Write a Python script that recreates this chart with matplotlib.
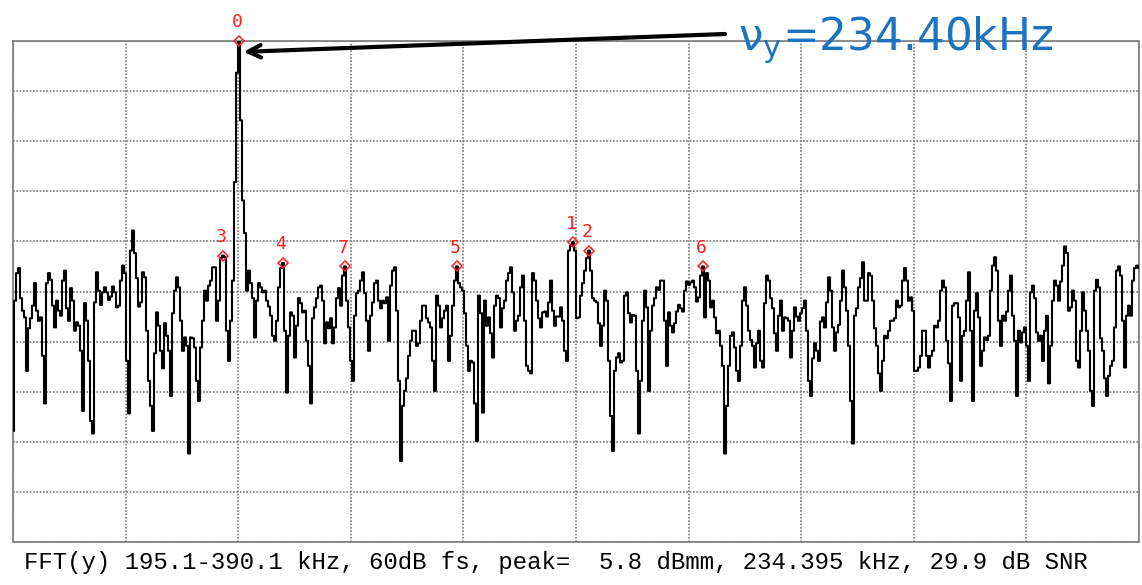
import numpy as np
import matplotlib.pyplot as plt

# spectrum analyser sweep, y plane
f_start, f_stop = 195.1, 390.1      # kHz
top_dbm = 5.8                       # peak level sits on the top graticule line
span_db = 60                        # 60 dB full scale, 10 divisions

level_dbm = [
    # 195.1 - 227.3 kHz
    -40.9, -25.3, -22.0, -21.4, -25.0, -26.5, -27.3, -33.7, -28.6, -27.4,
    -25.9, -23.2, -26.5, -27.7, -27.3, -31.9, -37.6, -23.2, -22.0, -22.8,
    -25.9, -28.5, -25.3, -26.5, -27.1, -22.9, -21.7, -26.2, -27.7, -23.8,
    -25.3, -28.9, -27.9, -28.3, -31.3, -38.5, -25.6, -27.7, -32.5, -39.7,
    -41.2, -25.5, -21.9, -24.1, -25.8, -24.3, -23.7, -24.3, -25.2, -24.8,
    -23.6, -24.3, -26.1, -25.9, -22.9, -21.1, -22.0, -32.5, -38.8, -19.3,
    -16.9, -19.6, -22.6, -26.0, -25.5, -21.9, -22.5, -28.9, -34.9, -37.9,
    -40.9, -31.6, -26.7, -28.3, -31.3, -33.4, -28.0, -29.5, -31.3, -36.7,
    -26.8, -24.1, -22.5, -23.7, -27.7, -31.3, -29.7, -30.7, -43.6, -29.7,
    -29.8, -30.9, -34.9, -37.3,
    # 227.6 - 259.5 kHz
    -30.9, -27.7, -24.1, -25.3, -23.5, -22.9, -21.3, -21.3, -27.7, -25.3,
    -20.2, -19.9, -20.1, -28.9, -32.5, -27.7, -22.9, -11.1, 2.0, 5.8,
    -3.7, -13.3, -17.2, -24.1, -21.7, -23.2, -25.0, -29.7, -25.3, -23.2,
    -23.7, -24.3, -24.1, -25.3, -26.0, -27.1, -29.5, -30.1, -27.7, -23.7,
    -21.4, -20.8, -28.9, -36.3, -29.5, -26.7, -27.1, -32.1, -28.3, -25.0,
    -25.6, -26.7, -26.5, -30.1, -33.1, -37.6, -27.4, -26.1, -25.0, -23.7,
    -23.5, -25.3, -30.4, -27.9, -28.6, -27.4, -30.4, -28.5, -25.0, -23.8,
    -25.9, -22.3, -21.2, -25.3, -28.5, -32.5, -34.9, -27.1, -24.4, -24.1,
    -22.9, -21.9, -24.4, -27.7, -31.3, -27.1, -25.5, -23.2, -22.9, -25.3,
    -26.2, -25.3, -25.6,
    # 259.8 - 291.3 kHz
    -24.9, -30.1, -23.5, -21.7, -21.3, -26.5, -34.9, -44.5, -37.9, -36.1,
    -34.6, -31.9, -30.1, -28.9, -28.9, -30.7, -30.4, -27.7, -25.9, -25.9,
    -27.4, -27.9, -28.5, -32.5, -36.1, -24.7, -25.9, -28.5, -27.4, -26.5,
    -25.9, -32.5, -29.5, -25.9, -22.9, -21.2, -23.2, -23.7, -24.1, -26.8,
    -30.7, -33.7, -32.5, -32.7, -37.6, -42.1, -24.7, -26.8, -38.7, -25.3,
    -28.3, -27.3, -29.2, -32.1, -25.9, -24.7, -25.0, -28.5, -26.2, -25.3,
    -22.9, -22.0, -21.3, -24.3, -28.9, -27.7, -27.1, -23.7, -22.3, -27.7,
    -33.1, -33.7, -34.0, -22.0, -22.9, -25.3, -27.4, -28.5, -26.7, -26.6,
    -27.2, -25.5, -22.9, -26.5, -28.3, -27.2, -27.2, -26.1, -27.7, -31.3,
    -32.5, -19.3,
    # 291.7 - 323.5 kHz
    -18.7, -18.3, -19.3, -27.4, -27.3, -24.7, -23.2, -21.7, -20.2, -19.3,
    -21.7, -25.0, -25.3, -25.5, -28.0, -30.7, -28.3, -24.1, -25.3, -32.5,
    -39.1, -43.3, -33.7, -32.1, -31.6, -32.7, -32.5, -24.7, -24.3, -26.8,
    -27.9, -27.0, -27.1, -33.7, -41.2, -34.9, -27.7, -24.1, -26.1, -36.1,
    -28.9, -25.9, -25.0, -23.7, -24.0, -22.9, -22.9, -27.7, -33.1, -26.7,
    -28.3, -29.1, -28.0, -26.6, -25.8, -26.2, -26.6, -24.1, -23.0, -23.4,
    -23.1, -22.9, -23.7, -25.4, -24.9, -22.3, -21.2, -27.3, -22.0, -22.9,
    -26.1, -25.3, -27.3, -29.2, -28.9, -30.7, -33.1, -43.6, -37.9, -33.1,
    -29.5, -29.1, -30.9, -33.7, -34.9, -30.7, -25.3, -23.7, -25.9, -28.9,
    -30.0, -30.7, -33.3,
    # 323.8 - 356.4 kHz
    -30.4, -28.9, -32.5, -33.3, -25.6, -22.3, -22.9, -25.0, -26.2, -29.2,
    -31.3, -27.1, -25.3, -28.9, -27.3, -27.4, -27.7, -32.1, -28.9, -26.1,
    -27.2, -27.7, -26.8, -26.2, -25.3, -28.9, -34.9, -36.7, -32.2, -30.4,
    -31.3, -32.5, -27.8, -27.3, -28.5, -25.5, -22.5, -24.1, -28.5, -31.3,
    -29.1, -28.2, -25.3, -21.7, -23.7, -26.5, -30.7, -37.3, -42.4, -27.1,
    -26.2, -23.7, -22.6, -20.7, -25.3, -25.3, -22.0, -22.3, -25.3, -28.6,
    -30.7, -34.0, -36.1, -32.5, -29.5, -29.8, -28.9, -27.7, -27.7, -27.4,
    -25.3, -26.1, -25.9, -22.9, -21.4, -22.9, -25.3, -24.9, -26.5, -33.7,
    -33.7, -33.3, -31.9, -28.9, -28.9, -31.9, -33.3, -31.9, -31.3, -28.3,
    -28.5, -27.7, -24.1, -22.9, -23.7,
    # 356.7 - 390.1 kHz
    -30.1, -32.8, -37.3, -25.9, -25.6, -25.6, -27.3, -34.9, -29.5, -28.9,
    -25.3, -21.9, -28.9, -37.3, -26.5, -24.4, -27.3, -33.1, -31.3, -29.7,
    -30.0, -29.5, -24.1, -21.1, -20.1, -21.7, -27.7, -30.7, -27.1, -27.7,
    -26.6, -24.1, -22.3, -27.1, -30.1, -36.7, -28.9, -30.3, -29.1, -28.5,
    -30.7, -34.9, -24.3, -23.5, -25.0, -29.1, -30.1, -29.5, -32.5, -28.9,
    -27.1, -35.2, -30.7, -25.3, -22.9, -23.5, -25.3, -23.0, -21.1, -18.8,
    -19.6, -26.5, -26.1, -24.1, -25.3, -32.5, -33.3, -28.9, -24.3, -26.5,
    -28.9, -31.3, -36.1, -37.9, -24.1, -22.8, -23.7, -29.8, -31.3, -34.6,
    -36.7, -34.3, -33.1, -32.5, -28.5, -21.7, -21.2, -22.3, -27.7, -33.3,
    -27.1, -25.9, -27.1, -22.9, -21.4, -21.1, -21.4,
]

# peak table, ranked by the analyser
marker_rank = [0, 1, 2, 3, 4, 5, 6, 7]
marker_khz = [234.24, 292.08, 294.85, 231.47, 241.86, 271.99, 314.59, 252.60]

caption = "FFT(y) 195.1-390.1 kHz, 60dB fs, peak=  5.8 dBmm, 234.395 kHz, 29.9 dB SNR"
tune_text = r"$\mathregular{\nu_y}$=234.40kHz"

level = np.array(level_dbm)
freq = np.linspace(f_start, f_stop, len(level))

W, H = 1142, 585
fig = plt.figure(figsize=(W / 100, H / 100), dpi=100)
ax = fig.add_axes([13 / W, 1 - 542 / H, 1126 / W, 501 / H])

ax.plot(freq, level, color="black", lw=1.5, drawstyle="steps-mid", zorder=3)

# red diamonds on the ranked peaks
for rank, fk in zip(marker_rank, marker_khz):
    i = int(np.argmin(np.abs(freq - fk)))
    ax.plot(freq[i], level[i], marker="D", ms=5, mfc="none", mec="#ff2020",
            mew=1.1, zorder=4, clip_on=False)
    ax.annotate(str(rank), (freq[i], level[i]), xytext=(-1.5, 7),
                textcoords="offset points", ha="center", va="bottom",
                color="#ff2020", fontsize=13, family="DejaVu Sans Mono",
                annotation_clip=False)

ax.set_xlim(f_start, f_stop)
ax.set_ylim(top_dbm - span_db, top_dbm)
ax.set_xticks(np.linspace(f_start, f_stop, 11))
ax.set_yticks(np.linspace(top_dbm - span_db, top_dbm, 11))
ax.tick_params(length=0, labelbottom=False, labelleft=False)
ax.grid(True, color="#7a7a7a", lw=1.2, ls=(0, (1, 1)))
for sp in ax.spines.values():
    sp.set_color("#7a7a7a")
    sp.set_linestyle((0, (1, 1)))
    sp.set_linewidth(1.2)

# arrow from the tune label down to the main line
ipk = int(np.argmax(level))
ax.annotate("", xy=(freq[ipk] + 0.8, level[ipk] - 1.3), xytext=(725, H - 34),
            textcoords="figure pixels", annotation_clip=False,
            arrowprops=dict(arrowstyle="->,head_length=0.9,head_width=0.45",
                            lw=3, color="black", shrinkA=0, shrinkB=0))

fig.text(738 / W, 1 - 50 / H, tune_text, color="#1a74c2", fontsize=31.5,
         ha="left", va="baseline")
fig.text(556 / W, 23 / H, caption, family="Liberation Mono", fontsize=17.3,
         ha="center", va="center", color="black")

fig.savefig("out.png", dpi=100, facecolor="white")
